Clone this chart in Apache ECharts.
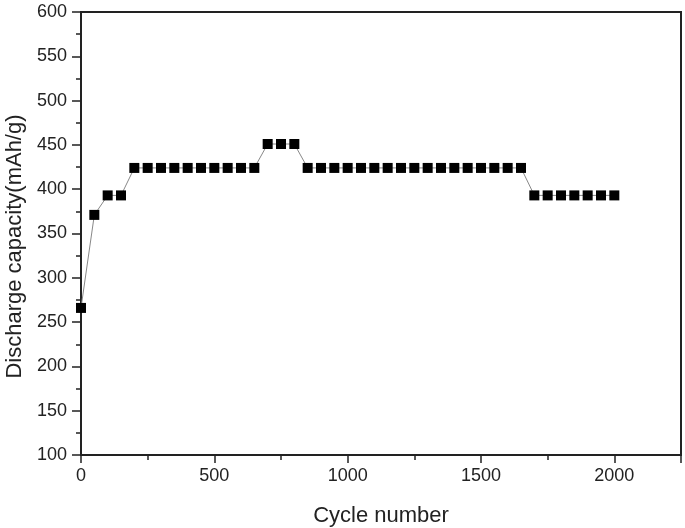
<!DOCTYPE html>
<html>
<head>
<meta charset="utf-8">
<script src="https://cdn.jsdelivr.net/npm/echarts@6/dist/echarts.min.js"></script>
<style>
  html, body { margin: 0; padding: 0; background: #fff; }
  #main { width: 685px; height: 528px; }
</style>
</head>
<body>
<div id="main"></div>
<script>
// cycle numbers
var cycles = [0, 50, 100, 150, 200, 250, 300, 350, 400, 450,
              500, 550, 600, 650, 700, 750, 800, 850, 900, 950,
              1000, 1050, 1100, 1150, 1200, 1250, 1300, 1350, 1400, 1450,
              1500, 1550, 1600, 1650, 1700, 1750, 1800, 1850, 1900, 1950,
              2000];
// discharge capacity (mAh/g)
var capacity = [266, 371, 393, 393, 424, 424, 424, 424, 424, 424,
                424, 424, 424, 424, 451, 451, 451, 424, 424, 424,
                424, 424, 424, 424, 424, 424, 424, 424, 424, 424,
                424, 424, 424, 424, 393, 393, 393, 393, 393, 393,
                393];
var yTicks = [100, 150, 200, 250, 300, 350, 400, 450, 500, 550, 600];
var xTicks = [0, 500, 1000, 1500, 2000];

var font = 'Liberation Sans, Arial, sans-serif';
var axisColor = '#222';

var points = cycles.map(function (c, i) { return [c, capacity[i]]; });

var myChart = echarts.init(document.getElementById('main'));
var option = {
    animation: false,
    backgroundColor: '#fff',
    grid: {
        left: 81, right: 4, top: 12, bottom: 73,
        outerBoundsMode: 'none',
        containLabel: false,
        show: true,
        borderColor: axisColor,
        borderWidth: 2,
        backgroundColor: 'transparent'
    },
    xAxis: {
        type: 'value',
        min: 0,
        max: 2250,
        interval: 500,
        name: 'Cycle number',
        nameLocation: 'middle',
        nameGap: 50,
        nameTextStyle: { fontFamily: font, fontSize: 22, color: '#222' },
        axisLine: { onZero: false, lineStyle: { color: axisColor, width: 2 } },
        axisTick: { inside: false, length: 8, lineStyle: { color: axisColor, width: 1.5 } },
        minorTick: { show: true, splitNumber: 2, length: 5, lineStyle: { color: axisColor, width: 1.5 } },
        splitLine: { show: false },
        axisLabel: {
            fontFamily: font, fontSize: 18, color: '#222', margin: 12,
            formatter: function (v) { return xTicks.indexOf(v) >= 0 ? String(v) : ''; }
        }
    },
    yAxis: {
        type: 'value',
        min: yTicks[0],
        max: yTicks[yTicks.length - 1],
        interval: 50,
        name: 'Discharge capacity(mAh/g)',
        nameLocation: 'middle',
        nameGap: 54,
        nameTextStyle: { fontFamily: font, fontSize: 22, color: '#222', padding: [0, 26, 0, 0] },
        axisLine: { onZero: false, lineStyle: { color: axisColor, width: 2 } },
        axisTick: { inside: false, length: 9, lineStyle: { color: axisColor, width: 1.5 } },
        minorTick: { show: true, splitNumber: 2, length: 5, lineStyle: { color: axisColor, width: 1.5 } },
        splitLine: { show: false },
        axisLabel: { fontFamily: font, fontSize: 18, color: '#222', margin: 14 }
    },
    series: [{
        type: 'line',
        data: points,
        symbol: 'rect',
        symbolSize: 10,
        showAllSymbol: true,
        lineStyle: { color: '#888', width: 1 },
        itemStyle: { color: '#000', borderWidth: 0 },
        emphasis: { disabled: true }
    }]
};
myChart.setOption(option);
</script>
</body>
</html>
